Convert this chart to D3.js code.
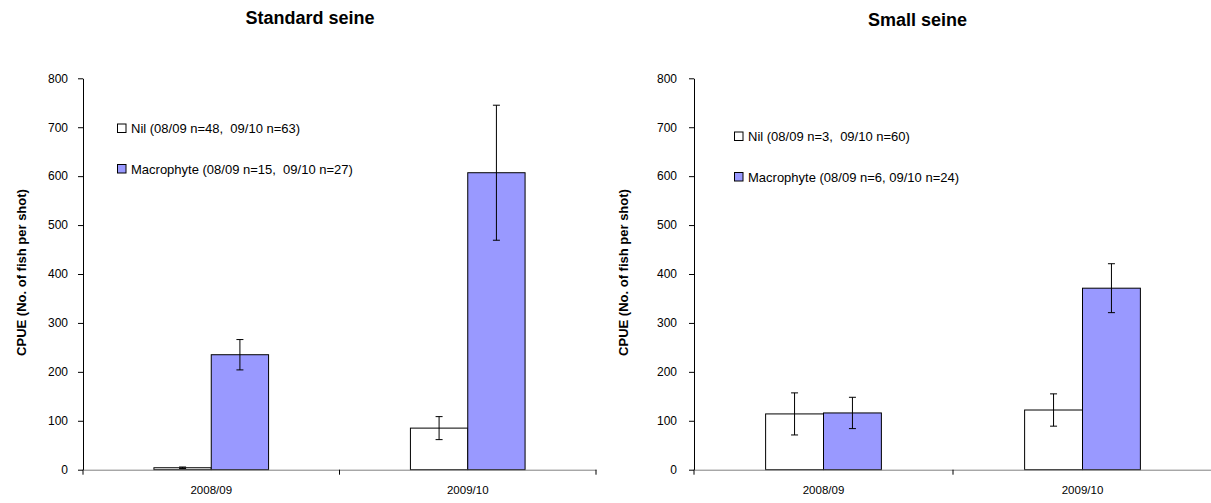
<!DOCTYPE html>
<html>
<head>
<meta charset="utf-8">
<script src="https://cdn.jsdelivr.net/npm/d3@7"></script>
<style>
  body { margin: 0; background: #fff; }
  text { font-family: "Liberation Sans", Arial, sans-serif; }
</style>
</head>
<body>
<svg id="chart" width="1211" height="503"></svg>
<script>
// categories + series
const categories = ["2008/09", "2009/10"];
const seriesNames = ["Nil", "Macrophyte"];
const yTicks = [0, 100, 200, 300, 400, 500, 600, 700, 800];

// standard seine (mean CPUE, +/- error)
const stdNil = [4, 85];
const stdNilErr = [1.5, 23.5];
const stdMac = [235, 607];
const stdMacErr = [31, 138];
const stdLegend = ["Nil (08/09 n=48,  09/10 n=63)", "Macrophyte (08/09 n=15,  09/10 n=27)"];

// small seine
const smallNil = [114, 122];
const smallNilErr = [43, 33];
const smallMac = [116, 371];
const smallMacErr = [32, 50];
const smallLegend = ["Nil (08/09 n=3,  09/10 n=60)", "Macrophyte (08/09 n=6, 09/10 n=24)"];

const colors = { "Nil": "#ffffff", "Macrophyte": "#9999ff" };

const svg = d3.select("#chart");

function drawPanel(opt) {
	const g = svg.append("g");

	const y = d3.scaleLinear().domain([0, 800]).range([469.7, 78.3]);
	const x = d3.scaleBand().domain(categories).range([opt.x0, opt.x1]);
	const bw = x.bandwidth();
	const barW = bw * 0.2235;
	const xs = d3.scaleBand().domain(seriesNames).range([bw / 2 - barW, bw / 2 + barW]);

	// rows for bars
	const rows = [];
	categories.forEach(function(c, i) {
		rows.push({cat: c, s: "Nil", v: opt.nil[i], e: opt.nilErr[i]});
		rows.push({cat: c, s: "Macrophyte", v: opt.mac[i], e: opt.macErr[i]});
	});

	// title
	g.append("text")
		.attr("x", opt.titleX)
		.attr("y", opt.titleY)
		.attr("text-anchor", "middle")
		.style("font-size", "18px")
		.style("font-weight", "bold")
		.text(opt.title);

	// y axis label
	g.append("text")
		.attr("transform", "translate(" + opt.labelX + "," + 272.5 + ") rotate(-90)")
		.attr("text-anchor", "middle")
		.attr("dy", "0.35em")
		.style("font-size", "13px")
		.style("font-weight", "bold")
		.text("CPUE (No. of fish per shot)");

	// bars
	g.selectAll("rect.bar")
		.data(rows)
		.enter().append("rect")
		.attr("class", "bar")
		.attr("x", d => x(d.cat) + xs(d.s))
		.attr("y", d => y(d.v))
		.attr("width", xs.bandwidth())
		.attr("height", d => y(0) - y(d.v))
		.attr("fill", d => colors[d.s])
		.attr("stroke", "#000")
		.attr("stroke-width", 1);

	// error bars
	const eb = g.selectAll("g.err")
		.data(rows)
		.enter().append("g")
		.attr("class", "err")
		.attr("transform", d => "translate(" + (x(d.cat) + xs(d.s) + xs.bandwidth() / 2) + ",0)");
	eb.append("line")
		.attr("y1", d => y(d.v + d.e)).attr("y2", d => y(d.v - d.e))
		.attr("stroke", "#000");
	eb.append("line")
		.attr("x1", -3.5).attr("x2", 3.5)
		.attr("y1", d => y(d.v + d.e)).attr("y2", d => y(d.v + d.e))
		.attr("stroke", "#000");
	eb.append("line")
		.attr("x1", -3.5).attr("x2", 3.5)
		.attr("y1", d => y(d.v - d.e)).attr("y2", d => y(d.v - d.e))
		.attr("stroke", "#000");

	// y axis
	const ya = g.append("g")
		.attr("transform", "translate(" + opt.x0 + ",0)")
		.call(d3.axisLeft(y).tickValues(yTicks).tickSize(5).tickPadding(opt.tickPad).tickSizeOuter(0));
	ya.selectAll("text").style("font-size", "12px").style("font-family", "'Liberation Sans', Arial, sans-serif").attr("fill", "#000");
	ya.select(".domain").attr("stroke", "#000");

	// x axis (labels at centres, ticks on band edges)
	const xa = g.append("g")
		.attr("transform", "translate(0," + y(0) + ")")
		.call(d3.axisBottom(x).tickSize(0).tickPadding(16));
	xa.select(".domain").attr("stroke", "#808080");
	xa.selectAll("text").style("font-size", "11.5px").style("font-family", "'Liberation Sans', Arial, sans-serif").attr("fill", "#000");
	const edges = categories.map(c => x(c)).concat([opt.x1]);
	xa.selectAll("line.edge")
		.data(edges)
		.enter().append("line")
		.attr("class", "edge")
		.attr("x1", d => d).attr("x2", d => d)
		.attr("y1", 0).attr("y2", 5)
		.attr("stroke", "#000");

	// legend
	const lg = g.selectAll("g.leg")
		.data(seriesNames)
		.enter().append("g")
		.attr("class", "leg")
		.attr("transform", (d, i) => "translate(" + opt.legX + "," + (opt.legY + i * 40.5) + ")");
	lg.append("rect")
		.attr("x", 0).attr("y", -9)
		.attr("width", 8.5).attr("height", 8.5)
		.attr("fill", d => colors[d])
		.attr("stroke", "#000");
	lg.append("text")
		.attr("x", 13.5)
		.attr("y", 0)
		.style("font-size", "13px")
		.style("white-space", "pre")
		.text((d, i) => opt.legend[i]);
}

drawPanel({
	title: "Standard seine", titleX: 310, titleY: 23.5,
	x0: 83, x1: 596, labelX: 21.5, tickPad: 10,
	nil: stdNil, nilErr: stdNilErr, mac: stdMac, macErr: stdMacErr,
	legend: stdLegend, legX: 117.5, legY: 133
});

drawPanel({
	title: "Small seine", titleX: 917.5, titleY: 26,
	x0: 694, x1: 1212, labelX: 623, tickPad: 12,
	nil: smallNil, nilErr: smallNilErr, mac: smallMac, macErr: smallMacErr,
	legend: smallLegend, legX: 734.5, legY: 141
});
</script>
</body>
</html>
